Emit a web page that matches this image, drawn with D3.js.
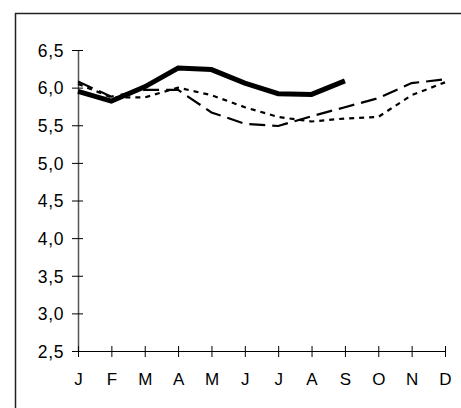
<!DOCTYPE html>
<html>
<head>
<meta charset="utf-8">
<script src="https://cdn.jsdelivr.net/npm/d3@7"></script>
<style>
  body { margin: 0; background: #fff; }
  svg text { font-family: "Liberation Sans", Arial, sans-serif; fill: #000; }
</style>
</head>
<body>
<svg width="461" height="408"></svg>
<script>
const months = ['J', 'F', 'M', 'A', 'M', 'J', 'J', 'A', 'S', 'O', 'N', 'D']
const yTicks = [2.5, 3.0, 3.5, 4.0, 4.5, 5.0, 5.5, 6.0, 6.5]

// three series, solid one stops at September
const solidSeries = [5.95, 5.82, 6.01, 6.26, 6.24, 6.06, 5.92, 5.91, 6.09]
const longDashSeries = [6.08, 5.88, 5.97, 5.97, 5.67, 5.52, 5.49, 5.62, 5.74, 5.86, 6.06, 6.11]
const shortDashSeries = [6.05, 5.87, 5.87, 6.0, 5.9, 5.74, 5.61, 5.55, 5.59, 5.61, 5.9, 6.07]

const margin = {top: 50, left: 78}
const width = 367
const height = 301

const svg = d3.select('svg')

// outer frame, runs off the bottom and right
svg.append('rect')
   .attr('x', 15.5)
   .attr('y', 13.5)
   .attr('width', 480)
   .attr('height', 420)
   .attr('fill', 'none')
   .attr('stroke', '#222')
   .attr('stroke-width', 1.5)

const g = svg.append('g')
   .attr('transform', `translate(${margin.left},${margin.top})`)

const xScale = d3.scalePoint()
   .domain(d3.range(months.length))
   .range([0, width])

const yScale = d3.scaleLinear()
   .domain([2.5, 6.5])
   .range([height, 0])

const fmt = d => d3.format('.1f')(d).replace('.', ',')

const yAxis = d3.axisLeft(yScale)
   .tickValues(yTicks)
   .tickFormat(fmt)
   .tickSizeInner(6)
   .tickSizeOuter(0)

const yAxisG = g.append('g').call(yAxis)
yAxisG.select('.domain').attr('stroke', '#555').attr('stroke-width', 1.5)
yAxisG.selectAll('.tick line').attr('x1', -6).attr('x2', 5).attr('stroke', '#000')
yAxisG.selectAll('.tick text').attr('x', -14).attr('dy', '0.36em').attr('letter-spacing', 0.6)
yAxisG.selectAll('text').attr('font-size', 17.5).attr('font-family', null)

const xAxis = d3.axisBottom(xScale)
   .tickFormat(i => months[i])
   .tickSizeInner(6)
   .tickSizeOuter(0)

const xAxisG = g.append('g')
   .attr('transform', `translate(0,${height})`)
   .call(xAxis)
xAxisG.select('.domain').attr('stroke', '#000').attr('stroke-width', 1.2)
xAxisG.selectAll('.tick line').attr('y1', -5).attr('y2', 6).attr('stroke', '#000')
xAxisG.selectAll('.tick text').attr('y', 22)
xAxisG.selectAll('text').attr('font-size', 17).attr('font-family', null)

const line = d3.line()
   .x((d, i) => xScale(i))
   .y(d => yScale(d))

g.append('path')
   .datum(shortDashSeries)
   .attr('d', line)
   .attr('fill', 'none')
   .attr('stroke', '#000')
   .attr('stroke-width', 2.2)
   .attr('stroke-dasharray', '5,5')

g.append('path')
   .datum(longDashSeries)
   .attr('d', line)
   .attr('fill', 'none')
   .attr('stroke', '#000')
   .attr('stroke-width', 2.2)
   .attr('stroke-dasharray', '16,7')

g.append('path')
   .datum(solidSeries)
   .attr('d', line)
   .attr('fill', 'none')
   .attr('stroke', '#000')
   .attr('stroke-width', 5)
</script>
</body>
</html>
